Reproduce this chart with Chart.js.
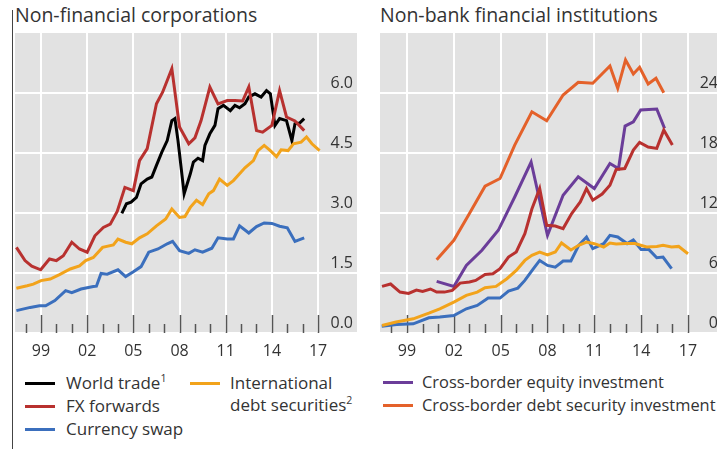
<!DOCTYPE html>
<html>
<head>
<meta charset="utf-8">
<script src="https://cdn.jsdelivr.net/npm/chart.js@4.4.1/dist/chart.umd.min.js"></script>
<style>
    body { margin: 0; width: 717px; height: 449px; overflow: hidden; background: #fff; position: relative;
           font-family: 'Open Sans', sans-serif; color: #333; }
    .rule { position: absolute; left: 12px; top: 10px; width: 1px; height: 439px; background: #444; }
    .title { position: absolute; top: 1px; font-size: 19.5px; white-space: nowrap; }
    .panel { position: absolute; top: 33px; width: 342px; height: 335px; }
    .item { position: absolute; font-size: 17px; line-height: 22px; white-space: nowrap; }
    .item.r { font-size: 16.4px; }
    .swatch { position: absolute; width: 30px; height: 3px; }
    sup { font-size: 10.5px; vertical-align: 7px; line-height: 0; }
</style>
</head>
<body>
<div class="rule"></div>
<div class="title" style="left:15px">Non-financial corporations</div>
<div class="title" style="left:380px">Non-bank financial institutions</div>
<div class="panel" style="left:15px"><canvas id="nfcChart"></canvas></div>
<div class="panel" style="left:380px"><canvas id="nbfiChart"></canvas></div>

<div class="swatch" style="left:25px;top:382px;background:#000"></div>
<div class="item" style="left:66px;top:372px">World trade<sup>1</sup></div>
<div class="swatch" style="left:25px;top:405px;background:#b8312f"></div>
<div class="item" style="left:66px;top:395px">FX forwards</div>
<div class="swatch" style="left:25px;top:428px;background:#3b6fbd"></div>
<div class="item" style="left:66px;top:418px">Currency swap</div>
<div class="swatch" style="left:190px;top:382px;background:#f2a31b"></div>
<div class="item" style="left:230px;top:372px">International<br>debt securities<sup>2</sup></div>

<div class="swatch" style="left:383px;top:381px;background:#6b3d99"></div>
<div class="item r" style="left:422px;top:371px">Cross-border equity investment</div>
<div class="swatch" style="left:383px;top:404px;background:#e4612a"></div>
<div class="item r" style="left:422px;top:394px">Cross-border debt security investment</div>

<script>
// values (x = year, y = ratio)
const nfcYTicks = [0, 1.5, 3, 4.5, 6];
const nbfiYTicks = [0, 6, 12, 18, 24];
const yearTicks = [1999, 2002, 2005, 2008, 2011, 2014, 2017];

// Non-financial corporations
const tradeX = [2004.25, 2004.55, 2004.85, 2005.2, 2005.5, 2005.9, 2006.2, 2006.5, 2006.85, 2007.2, 2007.5, 2007.7, 2007.9, 2008.3, 2008.7, 2008.9, 2009.2, 2009.5, 2009.65, 2009.97, 2010.3, 2010.5, 2010.85, 2011.3, 2011.6, 2011.9, 2012.25, 2012.5, 2012.9, 2013.3, 2013.65, 2013.9, 2014.2, 2014.5, 2014.95, 2015.3, 2015.5, 2015.8, 2016.1];
const tradeY = [2.99, 3.23, 3.27, 3.39, 3.73, 3.85, 3.90, 4.19, 4.52, 4.81, 5.31, 5.36, 4.81, 3.48, 3.98, 4.27, 4.37, 4.31, 4.69, 4.98, 5.19, 5.61, 5.69, 5.56, 5.69, 5.63, 5.73, 5.90, 5.98, 5.90, 6.06, 5.98, 5.19, 5.36, 5.31, 4.81, 5.23, 5.25, 5.36];

const fxNfcX = [1997.4, 1997.96, 1998.4, 1998.98, 1999.55, 2000.0, 2000.45, 2001.0, 2001.5, 2002.0, 2002.5, 2003.05, 2003.5, 2003.95, 2004.45, 2005.0, 2005.4, 2005.9, 2006.5, 2006.9, 2007.5, 2008.0, 2008.6, 2009.0, 2009.4, 2009.97, 2010.5, 2011.1, 2011.6, 2012.1, 2012.5, 2013.0, 2013.4, 2014.0, 2014.5, 2014.95, 2015.5, 2016.1];
const fxNfcY = [2.14, 1.81, 1.67, 1.58, 1.85, 1.81, 1.93, 2.27, 2.10, 2.02, 2.43, 2.64, 2.72, 3.04, 3.64, 3.56, 4.31, 4.61, 5.73, 6.02, 6.61, 5.15, 4.73, 4.88, 5.31, 6.15, 5.73, 5.81, 5.81, 5.80, 6.15, 5.06, 5.02, 5.19, 6.06, 5.40, 5.30, 5.06];

const swapNfcX = [1997.4, 1998.3, 1998.9, 1999.3, 1999.9, 2000.6, 2001.0, 2001.6, 2002.4, 2002.6, 2002.9, 2003.3, 2004.0, 2004.5, 2005.0, 2005.5, 2006.0, 2006.6, 2007.2, 2007.55, 2008.0, 2008.6, 2009.0, 2009.5, 2010.1, 2010.5, 2011.1, 2011.5, 2011.9, 2012.5, 2013.0, 2013.5, 2014.0, 2014.5, 2015.0, 2015.5, 2016.1];
const swapNfcY = [0.56, 0.64, 0.68, 0.68, 0.81, 1.06, 1.01, 1.10, 1.16, 1.17, 1.49, 1.47, 1.58, 1.41, 1.53, 1.66, 2.02, 2.10, 2.23, 2.29, 2.06, 1.99, 2.08, 2.02, 2.12, 2.38, 2.35, 2.35, 2.68, 2.50, 2.66, 2.75, 2.74, 2.67, 2.63, 2.29, 2.38];

const debtNfcX = [1997.4, 1998.1, 1998.5, 1999.0, 1999.6, 2000.2, 2000.9, 2001.5, 2001.9, 2002.4, 2003.0, 2003.7, 2004.0, 2004.5, 2004.9, 2005.4, 2005.9, 2006.5, 2007.1, 2007.5, 2008.0, 2008.35, 2008.7, 2009.1, 2009.5, 2009.9, 2010.2, 2010.6, 2011.1, 2011.5, 2011.9, 2012.25, 2012.8, 2013.1, 2013.5, 2013.9, 2014.3, 2014.6, 2015.05, 2015.4, 2015.9, 2016.25, 2016.6, 2017.1];
const debtNfcY = [1.12, 1.18, 1.22, 1.31, 1.35, 1.46, 1.60, 1.68, 1.81, 1.89, 2.14, 2.20, 2.35, 2.27, 2.23, 2.38, 2.48, 2.68, 2.85, 3.10, 2.89, 2.91, 3.14, 3.32, 3.21, 3.48, 3.56, 3.85, 3.69, 3.81, 3.98, 4.13, 4.31, 4.56, 4.69, 4.56, 4.41, 4.58, 4.56, 4.73, 4.77, 4.90, 4.73, 4.56];

// Non-bank financial institutions
const equityX = [2000.9, 2002.0, 2002.8, 2003.8, 2004.85, 2005.9, 2006.95, 2008.0, 2009.0, 2009.97, 2011.0, 2012.0, 2012.55, 2012.97, 2013.5, 2013.97, 2015.0, 2015.5];
const equityY = [5.16, 4.66, 6.76, 8.27, 10.27, 13.6, 17.1, 9.77, 13.78, 15.61, 14.45, 16.95, 16.45, 20.69, 21.12, 22.3, 22.4, 20.46];

const bondX = [2000.9, 2002.0, 2003.0, 2004.0, 2004.96, 2005.9, 2007.0, 2007.95, 2009.0, 2009.97, 2010.9, 2012.0, 2012.5, 2013.0, 2013.5, 2013.9, 2014.45, 2014.95, 2015.45];
const bondY = [7.33, 9.27, 11.94, 14.68, 15.45, 18.79, 22.12, 21.22, 23.8, 25.07, 24.97, 26.7, 24.47, 27.3, 25.9, 26.57, 24.9, 25.47, 24.03];

const fxNbfiX = [1997.4, 1997.95, 1998.55, 1999.1, 1999.6, 2000.0, 2000.5, 2000.9, 2001.4, 2001.9, 2002.4, 2003.0, 2003.4, 2004.0, 2004.5, 2004.96, 2005.5, 2006.0, 2006.55, 2007.0, 2007.5, 2007.95, 2008.5, 2009.0, 2009.55, 2010.1, 2010.5, 2010.9, 2011.5, 2012.0, 2012.4, 2012.95, 2013.5, 2013.9, 2014.45, 2015.0, 2015.45, 2016.0];
const fxNbfiY = [4.66, 4.9, 4.09, 3.96, 4.3, 4.16, 4.4, 4.09, 4.09, 4.26, 4.99, 5.1, 5.26, 5.86, 5.93, 6.43, 7.6, 8.1, 9.94, 12.4, 14.45, 10.77, 10.7, 10.44, 11.94, 13.1, 14.45, 13.28, 13.9, 14.78, 16.35, 16.45, 18.29, 19.06, 18.6, 18.46, 20.29, 18.79];

const swapNbfiX = [1997.38, 1998.34, 1999.4, 2000.4, 2001.1, 2002.0, 2002.8, 2003.5, 2004.2, 2004.96, 2005.5, 2006.1, 2006.55, 2007.1, 2007.5, 2008.0, 2008.5, 2009.0, 2009.5, 2010.0, 2010.5, 2010.9, 2011.6, 2012.0, 2012.5, 2013.1, 2013.5, 2014.0, 2014.5, 2015.0, 2015.4, 2015.95];
const swapNbfiY = [0.68, 0.85, 0.92, 1.52, 1.6, 1.75, 2.42, 2.76, 3.49, 3.49, 4.19, 4.49, 5.26, 6.43, 7.26, 6.76, 6.59, 7.2, 7.2, 8.77, 9.6, 8.44, 8.93, 9.77, 9.6, 8.94, 9.3, 8.34, 8.34, 7.53, 7.6, 6.43];

const debtNbfiX = [1997.4, 1998.3, 1999.4, 2000.4, 2001.1, 2002.0, 2002.8, 2003.5, 2004.0, 2004.7, 2005.4, 2006.0, 2006.55, 2007.0, 2007.5, 2008.0, 2008.5, 2008.9, 2009.5, 2010.0, 2010.5, 2011.0, 2011.6, 2012.0, 2012.4, 2013.0, 2013.6, 2014.35, 2015.0, 2015.4, 2015.95, 2016.4, 2017.0];
const debtNbfiY = [0.75, 1.1, 1.42, 1.98, 2.42, 3.09, 3.76, 4.09, 4.53, 4.66, 5.43, 6.26, 7.26, 7.77, 8.1, 7.8, 8.1, 9.0, 8.3, 8.77, 9.1, 8.93, 8.6, 9.0, 8.9, 8.94, 8.94, 8.6, 8.66, 8.77, 8.6, 8.66, 7.93];

const BLACK = '#000000', RED = '#b8312f', BLUE = '#3b6fbd', YELLOW = '#f2a31b', PURPLE = '#6b3d99', ORANGE = '#e4612a';

function pts(xs, ys) {
    return xs.map((x, i) => ({ x: x, y: ys[i] }));
}

function line(xs, ys, color) {
    return { data: pts(xs, ys), borderColor: color, backgroundColor: color, borderWidth: 3,
             pointRadius: 0, tension: 0, fill: false };
}

// grey plot background
const plotBg = {
    id: 'plotBg',
    beforeDraw(chart) {
        const a = chart.chartArea, ctx = chart.ctx;
        ctx.save();
        ctx.fillStyle = '#e2e2e2';
        ctx.fillRect(a.left, a.top, a.right - a.left, a.bottom - a.top);
        ctx.restore();
    }
};

// year tick marks drawn upward from the bottom of the plot
const yearMarks = {
    id: 'yearMarks',
    beforeDatasetsDraw(chart) {
        const xs = chart.scales.x, ctx = chart.ctx, bottom = chart.chartArea.bottom;
        ctx.save();
        ctx.strokeStyle = '#555';
        ctx.lineWidth = 1.5;
        for (let yr = 1998; yr <= 2017; yr++) {
            const px = Math.round(xs.getPixelForValue(yr)) + 0.5;
            const len = (yr - 1999) % 3 === 0 ? 18 : 9;
            ctx.beginPath();
            ctx.moveTo(px, bottom);
            ctx.lineTo(px, bottom - len);
            ctx.stroke();
        }
        ctx.restore();
    }
};

function renderPanel(id, datasets, xMin, xMax, yMax, yTicks, fmt) {
    const ctx = document.getElementById(id).getContext('2d');
    new Chart(ctx, {
        type: 'line',
        data: { datasets: datasets },
        plugins: [plotBg, yearMarks],
        options: {
            responsive: true,
            maintainAspectRatio: false,
            animation: false,
            layout: { padding: 0 },
            plugins: { legend: { display: false }, tooltip: { enabled: false } },
            scales: {
                x: {
                    type: 'linear', min: xMin, max: xMax,
                    afterBuildTicks: s => { s.ticks = yearTicks.map(v => ({ value: v })); },
                    afterFit: s => { s.height = 35; s.paddingLeft = 0; s.paddingRight = 0; },
                    grid: { color: '#ffffff', lineWidth: 2, drawTicks: false },
                    border: { display: false },
                    ticks: { padding: 9, color: '#333', font: { family: 'Open Sans', size: 16 },
                             maxRotation: 0, callback: v => String(v % 100).padStart(2, '0') }
                },
                y: {
                    position: 'right', min: 0, max: yMax,
                    afterBuildTicks: s => { s.ticks = yTicks.map(v => ({ value: v })); },
                    afterFit: s => { s.width = 0; s.paddingTop = 0; s.paddingBottom = 0; },
                    grid: { color: '#ffffff', lineWidth: 2, drawTicks: false },
                    border: { display: false },
                    ticks: { mirror: true, padding: -4, labelOffset: -10, color: '#333',
                             font: { family: 'Open Sans', size: 16 }, callback: fmt }
                }
            }
        }
    });
}

renderPanel('nfcChart', [
    line(debtNfcX, debtNfcY, YELLOW),
    line(swapNfcX, swapNfcY, BLUE),
    line(fxNfcX, fxNfcY, RED),
    line(tradeX, tradeY, BLACK)
], 1997.31, 2019.53, 7.5, nfcYTicks, v => v.toFixed(1));

renderPanel('nbfiChart', [
    line(debtNbfiX, debtNbfiY, YELLOW),
    line(swapNbfiX, swapNbfiY, BLUE),
    line(fxNbfiX, fxNbfiY, RED),
    line(equityX, equityY, PURPLE),
    line(bondX, bondY, ORANGE)
], 1997.27, 2019.18, 30, nbfiYTicks, v => String(v));
</script>
</body>
</html>
